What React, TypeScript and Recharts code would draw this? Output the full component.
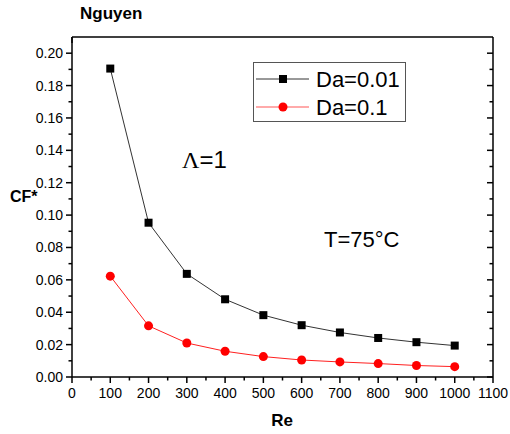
import React from 'react';
import { LineChart, Line, XAxis, YAxis } from 'recharts';

const reValues = [100, 200, 300, 400, 500, 600, 700, 800, 900, 1000];
const cfDa001 = [0.1905, 0.0953, 0.0637, 0.048, 0.0382, 0.032, 0.0275, 0.0241, 0.0215, 0.0194];
const cfDa01 = [0.0623, 0.0316, 0.021, 0.0159, 0.0126, 0.0105, 0.0093, 0.0083, 0.0071, 0.0064];
const xTicks = [0, 50, 100, 150, 200, 250, 300, 350, 400, 450, 500, 550, 600, 650, 700, 750, 800, 850, 900, 950, 1000, 1050, 1100];
const yTicks = [0, 0.01, 0.02, 0.03, 0.04, 0.05, 0.06, 0.07, 0.08, 0.09, 0.1, 0.11, 0.12, 0.13, 0.14, 0.15, 0.16, 0.17, 0.18, 0.19, 0.2];
const seriesNames = ['Da=0.01', 'Da=0.1'];
const titleText = 'Nguyen';
const xLabel = 'Re';
const yLabel = 'CF*';

const data = reValues.map((re, i) => ({ re, da001: cfDa001[i], da01: cfDa01[i] }));

const FONT = '"Liberation Sans", Arial, sans-serif';
const isMajorX = (v: number) => Math.round(v) % 100 === 0;
const isMajorY = (v: number) => Math.round(v * 100) % 2 === 0;

const BottomTick = (props: any) => {
  const { x, y, payload } = props;
  const v = payload.value;
  const major = isMajorX(v);
  return (
    <g>
      <line x1={x} x2={x} y1={y} y2={y + (major ? 6 : 3.5)} stroke="#000" strokeWidth={1.5} />
      {major && (
        <text x={x} y={y + 21} textAnchor="middle" fontSize={14} fontFamily={FONT} fill="#000">
          {v}
        </text>
      )}
    </g>
  );
};

const TopTick = (props: any) => {
  const { x, y, payload } = props;
  const major = isMajorX(payload.value);
  return <line x1={x} x2={x} y1={y} y2={y + (major ? 6 : 3.5)} stroke="#000" strokeWidth={1.5} />;
};

const LeftTick = (props: any) => {
  const { x, y, payload } = props;
  const v = payload.value;
  const major = isMajorY(v);
  return (
    <g>
      <line x1={x} x2={x - (major ? 6 : 3.5)} y1={y} y2={y} stroke="#000" strokeWidth={1.5} />
      {major && (
        <text x={x - 9} y={y + 5} textAnchor="end" fontSize={14} fontFamily={FONT} fill="#000">
          {v.toFixed(2)}
        </text>
      )}
    </g>
  );
};

const RightTick = (props: any) => {
  const { x, y, payload } = props;
  const major = isMajorY(payload.value);
  return <line x1={x} x2={x - (major ? 6 : 3.5)} y1={y} y2={y} stroke="#000" strokeWidth={1.5} />;
};

const SquareDot = (p: any) => (
  <rect key={`sq-${p.index}`} x={p.cx - 4} y={p.cy - 4} width={8} height={8} fill="#000" />
);
const CircleDot = (p: any) => (
  <circle key={`ci-${p.index}`} cx={p.cx} cy={p.cy} r={4.5} fill="#ff0000" />
);

export default function App() {
  return (
    <div style={{ position: 'absolute', left: 0, top: 0, width: 510, height: 434, background: '#fff' }}>
      <LineChart
        width={510}
        height={434}
        data={data}
        margin={{ top: 36, right: 16, bottom: 27, left: 0 }}
      >
        <XAxis
          dataKey="re"
          type="number"
          domain={[0, 1100]}
          ticks={xTicks}
          interval={0}
          height={30}
          tickSize={0}
          tickMargin={0}
          tickLine={false}
          tick={<BottomTick />}
          axisLine={{ stroke: '#000', strokeWidth: 1.5 }}
          allowDataOverflow
        />
        <XAxis
          xAxisId="top"
          orientation="top"
          type="number"
          domain={[0, 1100]}
          ticks={xTicks}
          interval={0}
          height={1}
          tickSize={0}
          tickMargin={0}
          tickLine={false}
          tick={<TopTick />}
          axisLine={{ stroke: '#000', strokeWidth: 1.5 }}
          allowDataOverflow
        />
        <YAxis
          type="number"
          domain={[0, 0.21]}
          ticks={yTicks}
          interval={0}
          width={72}
          tickSize={0}
          tickMargin={0}
          tickLine={false}
          tick={<LeftTick />}
          axisLine={{ stroke: '#000', strokeWidth: 1.5 }}
          allowDataOverflow
        />
        <YAxis
          yAxisId="right"
          orientation="right"
          type="number"
          domain={[0, 0.21]}
          ticks={yTicks}
          interval={0}
          width={1}
          tickSize={0}
          tickMargin={0}
          tickLine={false}
          tick={<RightTick />}
          axisLine={{ stroke: '#000', strokeWidth: 1.5 }}
          allowDataOverflow
        />
        <Line
          dataKey="da001"
          name={seriesNames[0]}
          stroke="#333"
          strokeWidth={1}
          dot={SquareDot}
          activeDot={false}
          isAnimationActive={false}
        />
        <Line
          dataKey="da01"
          name={seriesNames[1]}
          stroke="#ff2020"
          strokeWidth={1}
          dot={CircleDot}
          activeDot={false}
          isAnimationActive={false}
        />
      </LineChart>
      <svg
        width={510}
        height={434}
        style={{ position: 'absolute', left: 0, top: 0, pointerEvents: 'none' }}
      >
        <text x={80} y={19} fontSize={17} fontWeight="bold" fontFamily={FONT} fill="#000">
          {titleText}
        </text>
        <text x={10} y={202} fontSize={16} fontWeight="bold" fontFamily={FONT} fill="#000">
          {yLabel}
        </text>
        <text x={282} y={426} textAnchor="middle" fontSize={17} fontWeight="bold" fontFamily={FONT} fill="#000">
          {xLabel}
        </text>
        <text x={182} y={168} fontSize={24} fontFamily={FONT} fill="#000">
          <tspan fontFamily='"Liberation Serif", "Times New Roman", serif'>Λ</tspan>
          <tspan>=1</tspan>
        </text>
        <text x={324} y={247} fontSize={22} fontFamily={FONT} fill="#000">
          T=75°C
        </text>
      </svg>
      <div
        style={{
          position: 'absolute',
          left: 253,
          top: 62,
          width: 153,
          height: 60,
          border: '1px solid #555',
          boxSizing: 'border-box',
          background: '#fff',
        }}
      >
        <svg width={151} height={58} style={{ display: 'block' }}>
          <line x1={2} x2={55} y1={16} y2={16} stroke="#333" strokeWidth={1} />
          <rect x={25} y={12} width={8} height={8} fill="#000" />
          <text x={62} y={24} fontSize={22} fontFamily={FONT} fill="#000">
            {seriesNames[0]}
          </text>
          <line x1={2} x2={55} y1={44} y2={44} stroke="#ffaaaa" strokeWidth={2} />
          <circle cx={29} cy={44} r={4.5} fill="#ff0000" />
          <text x={62} y={52} fontSize={22} fontFamily={FONT} fill="#000">
            {seriesNames[1]}
          </text>
        </svg>
      </div>
    </div>
  );
}
